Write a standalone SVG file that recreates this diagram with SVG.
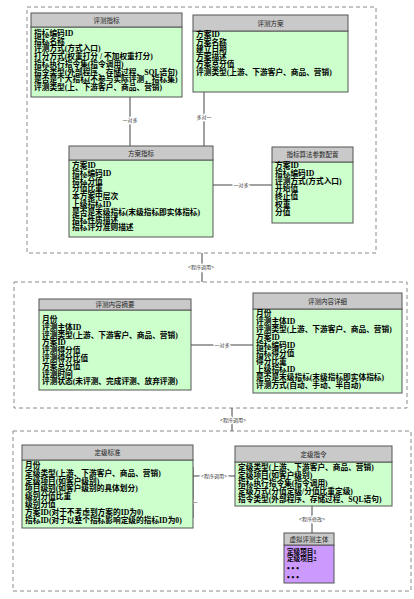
<svg xmlns="http://www.w3.org/2000/svg" width="414" height="599" viewBox="0 0 414 599">
<style>
.frame{fill:none;stroke:#8a8a8a;stroke-width:1;stroke-dasharray:4 3}
.hd{fill:#c9c9c9;stroke:#555;stroke-width:1}
.bd{fill:#ccffcc;stroke:#555;stroke-width:1}
.bdp{fill:#cc99ff;stroke:#555;stroke-width:1}
.ht{font-family:"Liberation Sans","Noto Sans CJK SC",sans-serif;font-size:6.5px;fill:#222;text-anchor:middle}
.bt{font-family:"Liberation Serif","Noto Sans CJK SC",serif;font-size:7.7px;font-weight:bold;fill:#000}
.sm{font-size:6.6px}
.ln{fill:none;stroke:#444;stroke-width:1}
.lb{font-family:"Liberation Sans","Noto Sans CJK SC",sans-serif;font-size:5px;fill:#333;text-anchor:middle;paint-order:stroke;stroke:#fff;stroke-width:2.5px}
</style>
<rect width="414" height="599" fill="#fff"/>
<g id="frames">
<rect class="frame" x="27" y="7" width="349" height="246"/>
<rect class="frame" x="14" y="282" width="393" height="126"/>
<rect class="frame" x="13" y="431" width="398" height="160"/>
</g>
<g id="connectors">
<path class="ln" d="M130 97 V146"/>
<text class="lb" x="130" y="122">一对多</text>
<path class="ln" d="M204 92 V146"/>
<text class="lb" x="204" y="119">多对一</text>
<path class="ln" d="M213 185 H272"/>
<text class="lb" x="241" y="187">一对多</text>
<path class="ln" d="M202 253 V282"/>
<text class="lb" x="201" y="269">&lt;程序调用&gt;</text>
<path class="ln" d="M191 345 H253"/>
<text class="lb" x="222" y="347">一对多</text>
<path class="ln" d="M232 408 V431"/>
<text class="lb" x="233" y="422">&lt;程序调用&gt;</text>
<path class="ln" d="M182 518 H193 V467 M193 476 H235"/>
<text class="lb" x="214" y="478">&lt;程序调用&gt;</text>
<text class="lb" x="190" y="504">多对一</text>
<path class="ln" d="M312 506 V533"/>
<text class="lb" x="312" y="521">&lt;程序修改&gt;</text>
</g>
<g id="n1">
<rect class="bd" x="31" y="27" width="151" height="70"/>
<rect class="hd" x="31" y="13" width="151" height="14"/>
<text class="ht" x="106.5" y="22.5">评测指标</text>
<text class="bt" x="34" y="36">指标编码ID</text>
<text class="bt" x="34" y="43.7">指标名称</text>
<text class="bt" x="34" y="51.4">评测方式(方式入口)</text>
<text class="bt" x="34" y="59.1">打分方式(权重打分 / 不加权重打分)</text>
<text class="bt" x="34" y="66.8">指标执行指令集(指令调用)</text>
<text class="bt" x="34" y="74.5">指令类型(外部程序、存储过程、SQL语句)</text>
<text class="bt" x="34" y="82.2">是否是个大指标(不参与实际评测，指标集)</text>
<text class="bt" x="34" y="89.9">评测类型(上、下游客户、商品、营销)</text>
</g>
<g id="n2">
<rect class="bd" x="193" y="31" width="155" height="61"/>
<rect class="hd" x="193" y="15" width="155" height="16"/>
<text class="ht" x="270.5" y="25.5">评测方案</text>
<text class="bt" x="196" y="37">方案ID</text>
<text class="bt" x="196" y="44.5">方案名称</text>
<text class="bt" x="196" y="52">建立日期</text>
<text class="bt" x="196" y="59.5">方案描述</text>
<text class="bt" x="196" y="67">方案总分值</text>
<text class="bt" x="196" y="74.5">评测类型(上游、下游客户、商品、营销)</text>
</g>
<g id="n3">
<rect class="bd" x="69" y="160" width="144" height="77"/>
<rect class="hd" x="69" y="146" width="144" height="14"/>
<text class="ht" x="141" y="155.5">方案指标</text>
<text class="bt" x="72" y="168">方案ID</text>
<text class="bt" x="72" y="175.8">指标编码ID</text>
<text class="bt" x="72" y="183.6">指标分值</text>
<text class="bt" x="72" y="191.4">分值比重</text>
<text class="bt" x="72" y="199.2">本方案中层次</text>
<text class="bt" x="72" y="207">上级指标ID</text>
<text class="bt" x="72" y="214.8">是否是末级指标(末级指标即实体指标)</text>
<text class="bt" x="72" y="222.6">指标性质描述</text>
<text class="bt" x="72" y="230.4">指标评分准则描述</text>
</g>
<g id="n4">
<rect class="bd" x="272" y="162" width="81" height="61"/>
<rect class="hd" x="272" y="147" width="81" height="15"/>
<text class="ht" x="312.5" y="157">指标算法参数配置</text>
<text class="bt" x="275" y="168">方案ID</text>
<text class="bt" x="275" y="175.8">指标编码ID</text>
<text class="bt" x="275" y="183.6">评测方式(方式入口)</text>
<text class="bt" x="275" y="191.4">开始值</text>
<text class="bt" x="275" y="199.2">终止值</text>
<text class="bt" x="275" y="207">权重</text>
<text class="bt" x="275" y="214.8">分值</text>
</g>
<g id="n5">
<rect class="bd" x="39" y="310" width="152" height="80"/>
<rect class="hd" x="39" y="299" width="152" height="11"/>
<text class="ht" x="115" y="307">评测内容摘要</text>
<text class="bt" x="42" y="322">月份</text>
<text class="bt" x="42" y="329.8">评测主体ID</text>
<text class="bt" x="42" y="337.6">评测类型(上游、下游客户、商品、营销)</text>
<text class="bt" x="42" y="345.4">方案ID</text>
<text class="bt" x="42" y="353.2">评测得分值</text>
<text class="bt" x="42" y="361">评测得分比值</text>
<text class="bt" x="42" y="368.8">方案总分值</text>
<text class="bt" x="42" y="376.6">评测时间</text>
<text class="bt" x="42" y="384.4">评测状态(未评测、完成评测、放弃评测)</text>
</g>
<g id="n6">
<rect class="bd" x="253" y="309" width="149" height="84"/>
<rect class="hd" x="253" y="293" width="149" height="16"/>
<text class="ht" x="327.5" y="303.5">评测内容详细</text>
<text class="bt" x="256" y="316">月份</text>
<text class="bt" x="256" y="324">评测主体ID</text>
<text class="bt" x="256" y="332">评测类型(上游、下游客户、商品、营销)</text>
<text class="bt" x="256" y="340">方案ID</text>
<text class="bt" x="256" y="348">指标编码ID</text>
<text class="bt" x="256" y="356">指标得分值</text>
<text class="bt" x="256" y="364">得分比重</text>
<text class="bt" x="256" y="372">上级指标ID</text>
<text class="bt" x="256" y="380">是否是末级指标(末级指标即实体指标)</text>
<text class="bt" x="256" y="388">评测方式(自动、手动、半自动)</text>
</g>
<g id="n7">
<rect class="bd" x="22" y="460" width="171" height="68"/>
<rect class="hd" x="22" y="445" width="171" height="15"/>
<text class="ht" x="107.5" y="455">定级标准</text>
<text class="bt" x="25" y="468">月份</text>
<text class="bt" x="25" y="475.8">定级类型(上游、下游客户、商品、营销)</text>
<text class="bt" x="25" y="483.6">定级项目(如客户级别)</text>
<text class="bt" x="25" y="491.4">项目级别(如客户级别的具体划分)</text>
<text class="bt" x="25" y="499.2">级别分值比重</text>
<text class="bt" x="25" y="507">级别分值</text>
<text class="bt" x="25" y="514.8">方案ID(对于不考虑到方案的ID为0)</text>
<text class="bt" x="25" y="522.6">指标ID(对于以整个指标影响定级的指标ID为0)</text>
</g>
<g id="n8">
<rect class="bd" x="235" y="462" width="157" height="44"/>
<rect class="hd" x="235" y="446" width="157" height="16"/>
<text class="ht" x="313.5" y="456.5">定级指令</text>
<text class="bt" x="238" y="470">定级类型(上游、下游客户、商品、营销)</text>
<text class="bt" x="238" y="478">定级项目(如客户级别)</text>
<text class="bt" x="238" y="486">指标执行指令集(指令调用)</text>
<text class="bt" x="238" y="494">定级方式(分值定级/分值比重定级)</text>
<text class="bt" x="238" y="502">指令类型(外部程序、存储过程、SQL语句)</text>
</g>
<g id="n9">
<rect class="bdp" x="284" y="545" width="50" height="38"/>
<rect class="hd" x="284" y="533" width="50" height="12"/>
<text class="ht" x="309" y="541.5">虚拟评测主体</text>
<text class="bt sm" x="287" y="553.5">定级项目1</text>
<text class="bt sm" x="287" y="561">定级项目2</text>
<text class="bt" x="287" y="571">• • •</text>
<text class="bt" x="287" y="580">• • •</text>
</g>
</svg>
